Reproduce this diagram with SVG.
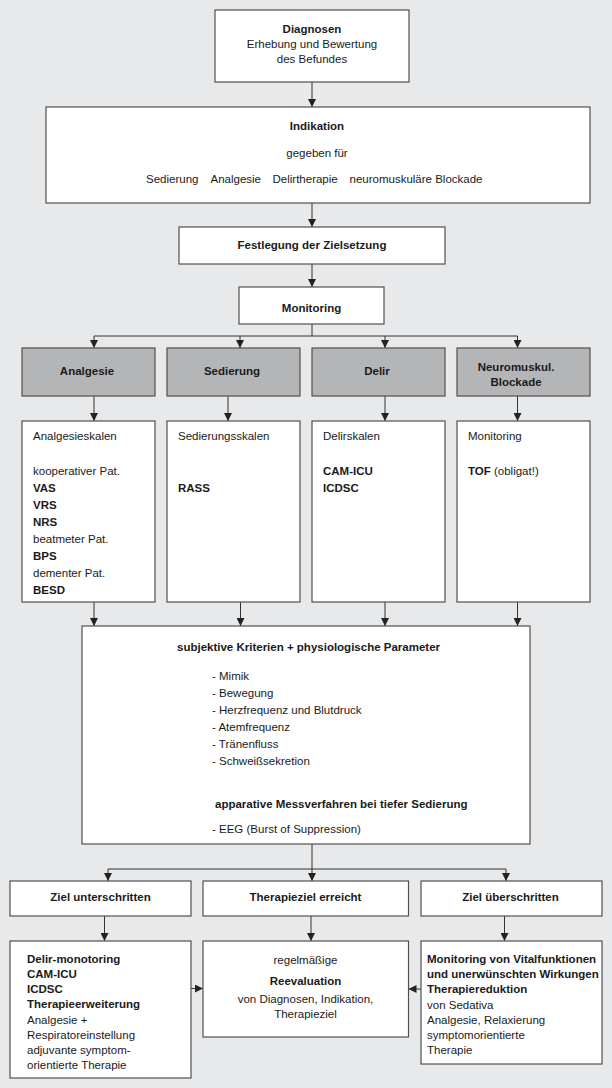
<svg xmlns="http://www.w3.org/2000/svg" width="612" height="1088" viewBox="0 0 612 1088">
<style>
.box{fill:#ffffff;stroke:#505050;stroke-width:1.2}
.gbox{fill:#b4b5b7;stroke:#505050;stroke-width:1.2}
text{font-family:"Liberation Sans",Arial,sans-serif;font-size:11.5px;fill:#1a1a1a}
.b{font-weight:bold}
.c{text-anchor:middle}
.con line,.con path{stroke:#333333;stroke-width:1;fill:none}
.arr{marker-end:url(#ah)}
</style>
<defs>
<marker id="ah" markerUnits="userSpaceOnUse" markerWidth="8" markerHeight="8" refX="8" refY="4" orient="auto">
<path d="M0,0 L8,4 L0,8 z" fill="#222222"/>
</marker>
</defs>
<rect x="0" y="0" width="612" height="1088" fill="#e8e9eb"/>

<g id="connectors" class="con">
<line class="arr" x1="312" y1="82" x2="312" y2="107"/>
<line class="arr" x1="312" y1="203" x2="312" y2="227"/>
<line class="arr" x1="312" y1="264" x2="312" y2="287"/>
<line x1="312" y1="324" x2="312" y2="336"/>
<line x1="94" y1="336" x2="517.5" y2="336"/>
<line class="arr" x1="94" y1="336" x2="94" y2="348"/>
<line class="arr" x1="240" y1="336" x2="240" y2="348"/>
<line class="arr" x1="385" y1="336" x2="385" y2="348"/>
<line class="arr" x1="517.5" y1="336" x2="517.5" y2="348"/>
<line class="arr" x1="94" y1="396" x2="94" y2="421"/>
<line class="arr" x1="228" y1="396" x2="228" y2="421"/>
<line class="arr" x1="385" y1="396" x2="385" y2="421"/>
<line class="arr" x1="517.5" y1="396" x2="517.5" y2="421"/>
<line class="arr" x1="94" y1="602" x2="94" y2="626"/>
<line class="arr" x1="240.5" y1="602" x2="240.5" y2="626"/>
<line class="arr" x1="385" y1="602" x2="385" y2="626"/>
<line class="arr" x1="517.5" y1="602" x2="517.5" y2="626"/>
<line x1="312" y1="844" x2="312" y2="869"/>
<line x1="108" y1="869" x2="506" y2="869"/>
<line class="arr" x1="108" y1="869" x2="108" y2="881"/>
<line class="arr" x1="312" y1="869" x2="312" y2="881"/>
<line class="arr" x1="506" y1="869" x2="506" y2="881"/>
<line class="arr" x1="104.5" y1="916" x2="104.5" y2="941"/>
<line class="arr" x1="311" y1="916" x2="311" y2="941"/>
<line class="arr" x1="504.5" y1="916" x2="504.5" y2="941"/>
<line class="arr" x1="191" y1="988.5" x2="203" y2="988.5"/>
<line class="arr" x1="421" y1="989" x2="408.5" y2="989"/>
</g>

<g id="diagnosen">
<rect class="box" x="215" y="10" width="194" height="72"/>
<text class="b c" x="312" y="33">Diagnosen</text>
<text class="c" x="312" y="48">Erhebung und Bewertung</text>
<text class="c" x="312" y="63">des Befundes</text>
</g>

<g id="indikation">
<rect class="box" x="46" y="107" width="544" height="96"/>
<text class="b c" x="317" y="130">Indikation</text>
<text class="c" x="317" y="157">gegeben für</text>
<text x="146" y="183">Sedierung</text>
<text x="210.5" y="183">Analgesie</text>
<text x="272.5" y="183">Delirtherapie</text>
<text x="349.5" y="183">neuromuskuläre Blockade</text>
</g>

<g id="zielsetzung">
<rect class="box" x="179" y="227" width="266" height="37"/>
<text class="b c" x="312" y="249">Festlegung der Zielsetzung</text>
</g>

<g id="monitoring">
<rect class="box" x="239" y="287" width="145" height="37"/>
<text class="b c" x="311.5" y="312">Monitoring</text>
</g>

<g id="g-analgesie">
<rect class="gbox" x="22" y="348" width="133" height="48"/>
<text class="b c" x="87" y="375">Analgesie</text>
</g>
<g id="g-sedierung">
<rect class="gbox" x="167" y="348" width="133" height="48"/>
<text class="b c" x="232" y="375">Sedierung</text>
</g>
<g id="g-delir">
<rect class="gbox" x="312" y="348" width="133" height="48"/>
<text class="b c" x="377" y="375">Delir</text>
</g>
<g id="g-neuro">
<rect class="gbox" x="457" y="348" width="133" height="48"/>
<text class="b c" x="516" y="370.5">Neuromuskul.</text>
<text class="b c" x="516" y="385.5">Blockade</text>
</g>

<g id="w-analgesie">
<rect class="box" x="22" y="421" width="133" height="181"/>
<text x="33" y="440">Analgesieskalen</text>
<text x="33" y="475">kooperativer Pat.</text>
<text class="b" x="33" y="492">VAS</text>
<text class="b" x="33" y="509">VRS</text>
<text class="b" x="33" y="526">NRS</text>
<text x="33" y="543">beatmeter Pat.</text>
<text class="b" x="33" y="560">BPS</text>
<text x="33" y="577">dementer Pat.</text>
<text class="b" x="33" y="594">BESD</text>
</g>
<g id="w-sedierung">
<rect class="box" x="167" y="421" width="133" height="181"/>
<text x="178" y="440">Sedierungsskalen</text>
<text class="b" x="178" y="492">RASS</text>
</g>
<g id="w-delir">
<rect class="box" x="312" y="421" width="133" height="181"/>
<text x="323" y="440">Delirskalen</text>
<text class="b" x="323" y="475">CAM-ICU</text>
<text class="b" x="323" y="492">ICDSC</text>
</g>
<g id="w-neuro">
<rect class="box" x="457" y="421" width="133" height="181"/>
<text x="468" y="440">Monitoring</text>
<text x="468" y="475"><tspan class="b">TOF</tspan> (obligat!)</text>
</g>

<g id="kriterien">
<rect class="box" x="82" y="626" width="448" height="218"/>
<text class="b" x="177" y="650.5">subjektive Kriterien + physiologische Parameter</text>
<text x="212" y="680">- Mimik</text>
<text x="212" y="697">- Bewegung</text>
<text x="212" y="714">- Herzfrequenz und Blutdruck</text>
<text x="212" y="731">- Atemfrequenz</text>
<text x="212" y="748">- Tränenfluss</text>
<text x="212" y="765">- Schweißsekretion</text>
<text class="b" x="215" y="807.5">apparative Messverfahren bei tiefer Sedierung</text>
<text x="212" y="833">- EEG (Burst of Suppression)</text>
</g>

<g id="ziel-unter">
<rect class="box" x="10" y="881" width="181" height="35"/>
<text class="b c" x="100.5" y="901">Ziel unterschritten</text>
</g>
<g id="ziel-erreicht">
<rect class="box" x="203" y="881" width="205.5" height="35"/>
<text class="b c" x="305.5" y="901">Therapieziel erreicht</text>
</g>
<g id="ziel-ueber">
<rect class="box" x="421" y="881" width="181" height="35"/>
<text class="b c" x="510.5" y="901">Ziel überschritten</text>
</g>

<g id="therapieerweiterung">
<rect class="box" x="10" y="941" width="181" height="137"/>
<text class="b" x="27" y="963">Delir-monotoring</text>
<text class="b" x="27" y="978">CAM-ICU</text>
<text class="b" x="27" y="993">ICDSC</text>
<text class="b" x="27" y="1008">Therapieerweiterung</text>
<text x="27" y="1023.5">Analgesie +</text>
<text x="27" y="1039">Respiratoreinstellung</text>
<text x="27" y="1054">adjuvante symptom-</text>
<text x="27" y="1069">orientierte Therapie</text>
</g>

<g id="reevaluation">
<rect class="box" x="203" y="941" width="205.5" height="96"/>
<text class="c" x="305.5" y="964">regelmäßige</text>
<text class="b c" x="305.5" y="985">Reevaluation</text>
<text class="c" x="305.5" y="1003">von Diagnosen, Indikation,</text>
<text class="c" x="305.5" y="1018">Therapieziel</text>
</g>

<g id="therapiereduktion">
<rect class="box" x="421" y="941" width="181" height="123"/>
<text class="b" x="427" y="963">Monitoring von Vitalfunktionen</text>
<text class="b" x="427" y="978">und unerwünschten Wirkungen</text>
<text class="b" x="427" y="993">Therapiereduktion</text>
<text x="427" y="1008.5">von Sedativa</text>
<text x="427" y="1024">Analgesie, Relaxierung</text>
<text x="427" y="1039">symptomorientierte</text>
<text x="427" y="1053.5">Therapie</text>
</g>
</svg>
